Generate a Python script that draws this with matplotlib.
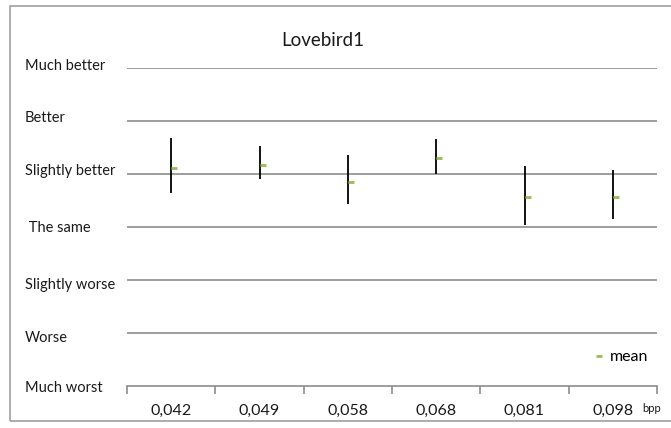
import matplotlib
matplotlib.use("Agg")
import matplotlib.pyplot as plt
import matplotlib.transforms as mtransforms
from matplotlib.lines import Line2D
from matplotlib.patches import Rectangle

plt.rcParams['font.family'] = ['Lato', 'DejaVu Sans']

categories = ["0,042", "0,049", "0,058", "0,068", "0,081", "0,098"]
mean_vals = [1.11, 1.17, 0.85, 1.30, 0.57, 0.57]
upper_vals = [1.68, 1.52, 1.35, 1.66, 1.16, 1.08]
lower_vals = [0.64, 0.91, 0.43, 1.00, 0.04, 0.15]
level_vals = [3, 2, 1, 0, -1, -2, -3]
level_labels = ["Much better", "Better", "Slightly better", " The same",
                "Slightly worse", "Worse", "Much worst"]
# vertical nudges of the level labels, in pixels (positive = up)
label_nudge = [4, 4, 5, 1, -3, -3, -1]

W, H = 671, 428
fig = plt.figure(figsize=(W / 100, H / 100), dpi=100)
fig.patch.set_facecolor("white")

fig.patches.append(Rectangle((10 / W, (H - 421) / H), 1.0, (421 - 6) / H,
                             transform=fig.transFigure, fill=False,
                             edgecolor="#a0a0a0", linewidth=1.2))

ax = fig.add_axes([127 / W, (H - 386) / H, (657 - 127) / W, (386 - 68) / H])
ax.set_xlim(-0.5, len(categories) - 0.5)
ax.set_ylim(-3, 3)

grid_c = "#8c8c8c"
txt_c = "#1a1a1a"
for v in level_vals[:-1]:
    ax.axhline(v, color=grid_c, linewidth=1.2, zorder=1)

for s in ["top", "right", "left"]:
    ax.spines[s].set_visible(False)
ax.spines["bottom"].set_color(grid_c)
ax.spines["bottom"].set_linewidth(1.2)

x = list(range(len(categories)))
ax.vlines(x, lower_vals, upper_vals, color="black", linewidth=1.3, zorder=3)
off = mtransforms.offset_copy(ax.transData, fig=fig, x=3, y=0, units='dots')
ax.plot(x, mean_vals, linestyle="none", marker="_", markersize=4,
        markeredgewidth=2.0, color="#9bbb59", transform=off, zorder=4)

ax.set_yticks(level_vals)
ax.set_yticklabels(level_labels, fontsize=10.5, color=txt_c)
ax.tick_params(axis="y", length=0, pad=102 * 72 / 100)
for t, n in zip(ax.get_yticklabels(), label_nudge):
    t.set_horizontalalignment("left")
    t.set_transform(t.get_transform() +
                    mtransforms.ScaledTranslation(0, n / 100, fig.dpi_scale_trans))

ax.set_xticks([i - 0.5 for i in range(len(categories) + 1)])
ax.set_xticklabels([])
ax.set_xticks(x, minor=True)
ax.set_xticklabels(categories, minor=True, fontsize=11.5, color=txt_c)
ax.tick_params(axis="x", which="major", length=6, color=grid_c, width=1.2, direction="out")
ax.tick_params(axis="x", which="minor", length=0, pad=13)

fig.text(323 / W, (H - 40) / H, "Lovebird1", ha="center", va="center",
         fontsize=13.5, color=txt_c)
fig.text(642 / W, (H - 409) / H, "bpp", ha="left", va="center",
         fontsize=8, color=txt_c)

handle = Line2D([], [], linestyle="none", marker="_", markersize=4,
                markeredgewidth=2.0, color="#9bbb59")
fig.legend([handle], ["mean"], loc="center", bbox_to_anchor=(622 / W, (H - 357) / H),
           frameon=False, fontsize=11.5, handlelength=0.4, handletextpad=0.5,
           borderpad=0)

fig.savefig("out.png", dpi=100)
